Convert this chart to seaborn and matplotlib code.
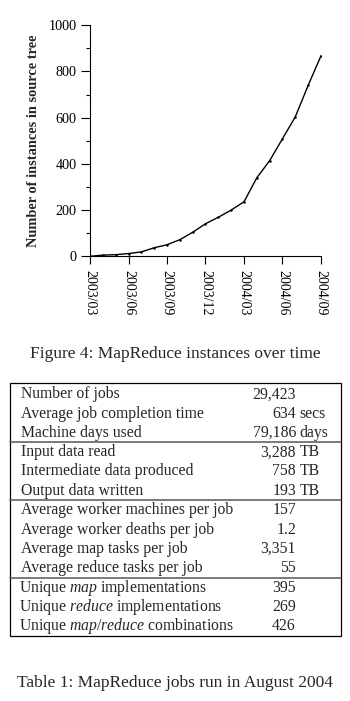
import matplotlib
matplotlib.use("Agg")
import matplotlib.pyplot as plt
from matplotlib.lines import Line2D
from matplotlib.patches import Rectangle
from matplotlib.ticker import MultipleLocator, FixedLocator
import seaborn as sns
import pandas as pd

# ---------------- data ----------------
months = ["2003/03", "2003/04", "2003/05", "2003/06", "2003/07", "2003/08",
          "2003/09", "2003/10", "2003/11", "2003/12", "2004/01", "2004/02",
          "2004/03", "2004/04", "2004/05", "2004/06", "2004/07", "2004/08",
          "2004/09"]
instances = [0, 5, 7, 12, 19, 37, 50, 72, 104, 141, 169, 200, 236, 340, 414,
             509, 604, 740, 868]
tick_labels = ["2003/03", "2003/06", "2003/09", "2003/12", "2004/03",
               "2004/06", "2004/09"]

row_labels = ["Number of jobs", "Average job completion time", "Machine days used",
              "Input data read", "Intermediate data produced", "Output data written",
              "Average worker machines per job", "Average worker deaths per job",
              "Average map tasks per job", "Average reduce tasks per job",
              r"Unique $\mathit{map}$ implementations",
              r"Unique $\mathit{reduce}$ implementations",
              r"Unique $\mathit{map/reduce}$ combinations"]
row_values = ["29,423", "634", "79,186", "3,288", "758", "193", "157", "1.2",
              "3,351", "55", "395", "269", "426"]
row_units = ["", "secs", "days", "TB", "TB", "TB", "", "", "", "", "", "", ""]

fig_caption = "Figure 4: MapReduce instances over time"
table_caption = "Table 1: MapReduce jobs run in August 2004"

# ---------------- style ----------------
sns.set_style("ticks")
plt.rcParams["font.family"] = ["Liberation Serif", "DejaVu Serif"]
plt.rcParams["mathtext.fontset"] = "custom"
plt.rcParams["mathtext.rm"] = "Liberation Serif"
plt.rcParams["mathtext.it"] = "Liberation Serif:italic"

W, H = 350, 701
fig = plt.figure(figsize=(W / 100, H / 100), dpi=100)


def fx(x):
    return x / W


def fy(y):
    return 1 - y / H


# ---------------- chart ----------------
left, right, top, bottom = 90, 321, 25.3, 256.3
ax = fig.add_axes([fx(left), fy(bottom), (right - left) / W, (bottom - top) / H])

df = pd.DataFrame({"idx": range(len(months)), "month": months, "count": instances})
sns.lineplot(data=df, x="idx", y="count", ax=ax, color="black", linewidth=1.0,
             marker="o", markersize=1.8, markeredgewidth=0)

ax.set_xlim(0, len(months) - 1)
ax.set_ylim(0, 1000)
ax.xaxis.set_major_locator(FixedLocator([months.index(m) for m in tick_labels]))
ax.set_xticklabels(tick_labels, rotation=-90, fontsize=10)
ax.yaxis.set_major_locator(MultipleLocator(200))
ax.yaxis.set_minor_locator(MultipleLocator(100))
ax.tick_params(axis="y", labelsize=10.2, length=6.5, width=0.8, pad=3, color="black")
ax.tick_params(axis="y", which="minor", length=3, width=0.8, color="black")
ax.tick_params(axis="x", length=6, width=0.8, pad=4, color="black")
ax.set_xlabel("")
ax.set_ylabel("Number of instances in source tree", fontsize=10.4,
              fontweight="bold", labelpad=6)
for s in ["top", "right"]:
    ax.spines[s].set_visible(False)
for s in ["left", "bottom"]:
    ax.spines[s].set_linewidth(0.8)
    ax.spines[s].set_color("black")
ax.tick_params(colors="black")

fig.text(fx(175), fy(358.3), fig_caption, ha="center", va="baseline", fontsize=12.5)

# ---------------- table ----------------
tbl_left, tbl_right, tbl_top, tbl_bottom = 9.5, 341, 383.3, 636
fig.patches.append(Rectangle((fx(tbl_left), fy(tbl_bottom)),
                             (tbl_right - tbl_left) / W, (tbl_bottom - tbl_top) / H,
                             transform=fig.transFigure, fill=False,
                             edgecolor="black", linewidth=0.9))
for sep in [441.7, 500.3, 578.3]:
    fig.add_artist(Line2D([fx(tbl_left), fx(tbl_right)], [fy(sep), fy(sep)],
                          transform=fig.transFigure, color="#555555", linewidth=1.1))

baselines = [398.3, 417.5, 436.7, 456.2, 475.4, 494.6, 514.4, 533.6, 552.8,
             572.0, 592.0, 611.2, 630.4]
fs = 11.3
for lab, val, unit, yb in zip(row_labels, row_values, row_units, baselines):
    lx = 19.4 if "$" in lab else 20.7
    fig.text(fx(lx), fy(yb), lab, ha="left", va="baseline", fontsize=fs)
    fig.text(fx(296), fy(yb), val, ha="right", va="baseline", fontsize=fs)
    if unit:
        fig.text(fx(299.5), fy(yb), unit, ha="left", va="baseline", fontsize=fs)

fig.text(fx(175), fy(687.3), table_caption, ha="center", va="baseline", fontsize=12.5)

fig.savefig("out.png", dpi=100)
